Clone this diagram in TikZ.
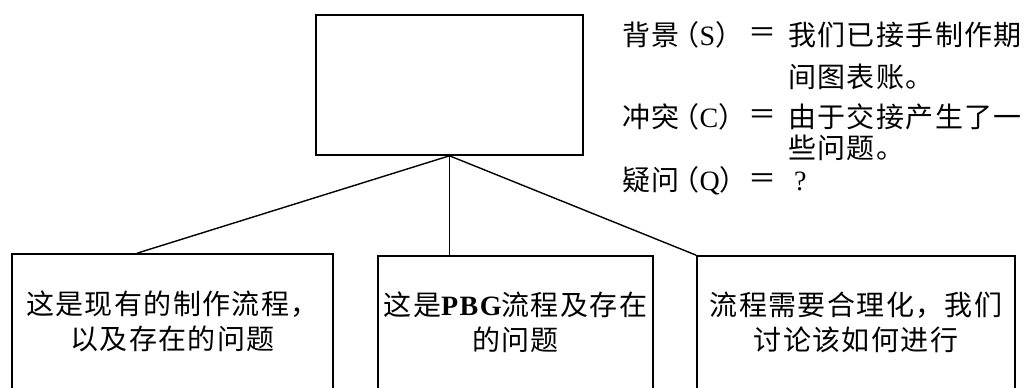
\documentclass[tikz,border=0pt]{standalone}
\usepackage{fontspec}
\newfontfamily\cjk[LetterSpace=5]{Noto Sans CJK SC}
\newfontfamily\cjkh[LetterSpace=5,RawFeature=+halt]{Noto Sans CJK SC}
\newfontfamily\lat[LetterSpace=5]{Liberation Serif}
\newcommand{\lblpar}[1]{\hspace{6pt}{\cjkh（}{\lat #1}{\cjkh）}}
\tikzset{
  box/.style={draw, line width=1.6pt, rectangle, inner sep=0pt, align=center,
    font=\cjk\fontsize{28}{35}\selectfont},
  link/.style={line width=1.4pt},
  txt/.style={inner sep=0pt, font=\cjk\fontsize{28}{35}\selectfont},
}
\begin{document}
\begin{tikzpicture}[x=1pt,y=-1pt]
\useasboundingbox (0,0) rectangle (1029,388);
% top box
\node[box, minimum width=267pt, minimum height=140pt] (top) at (449.5,85) {};
% bottom boxes
\node[box, text width=321pt, minimum height=135pt] (b1) at (172.5,321.5)
  {这是现有的制作流程，\\以及存在的问题};
\node[box, text width=275pt, minimum height=133pt] (b2) at (515.5,322.5)
  {这是{\lat\bfseries PBG}流程及存在\\的问题};
\node[box, text width=318pt, minimum height=133pt] (b3) at (856,322.5)
  {流程需要合理化，我们\\讨论该如何进行};
% connectors
\draw[link] (top.south) -- ([xshift=-35.5pt]b1.north);
\draw[link] (top.south) -- (top.south |- b2.north);
\draw[link] (top.south) -- (b3.north west);
% SCQ text
\node[txt, anchor=west] (s1) at (622,35) {背景\lblpar{S}};
\node[txt] (s1e) at (762,35) {＝};
\node[txt, anchor=west] (s1v) at (788,35) {我们已接手制作期};
\node[txt, anchor=west] (s1w) at (788,77) {间图表账。};
\node[txt, anchor=west] (c1) at (622,117) {冲突\lblpar{C}};
\node[txt] (c1e) at (762,117) {＝};
\node[txt, anchor=west] (c1v) at (788,117) {由于交接产生了一};
\node[txt, anchor=west] (c1w) at (788,148) {些问题。};
\node[txt, anchor=west] (q1) at (622,181) {疑问\lblpar{Q}};
\node[txt] (q1e) at (762,181) {＝};
\node[txt, anchor=west] (q1v) at (794,181) {{\lat ?}};
\end{tikzpicture}
\end{document}
